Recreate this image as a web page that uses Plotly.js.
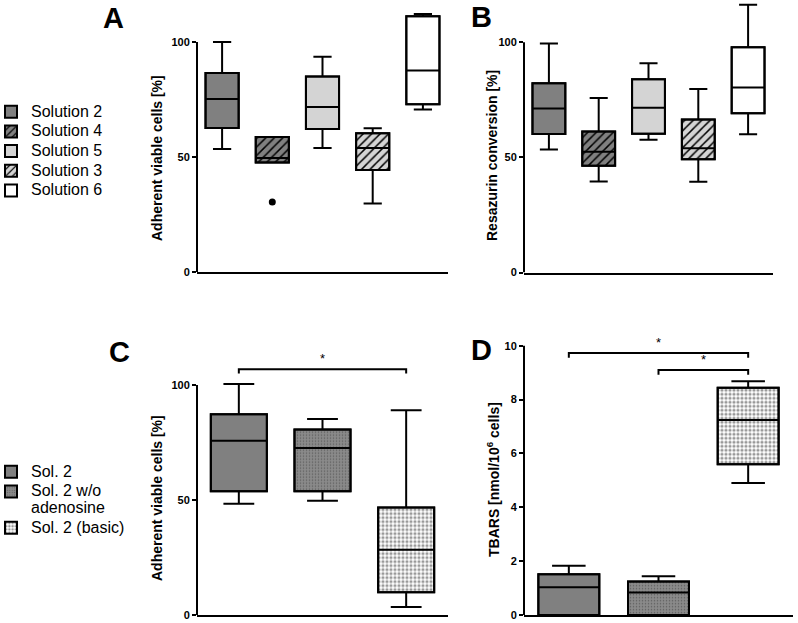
<!DOCTYPE html>
<html>
<head>
<meta charset="utf-8">
<script src="https://cdn.plot.ly/plotly-3.0.1.min.js"></script>
<style>body{margin:0;background:#fff;}</style>
</head>
<body>
<div id="chart" style="width:798px;height:623px;"></div>
<script>
// panel A - adherent viable cells, 5 solutions
var solA = ['Solution 2', 'Solution 4', 'Solution 5', 'Solution 3', 'Solution 6'];
var aLow  = [53.5, 47.6, 53.9, 29.8, 70.7];
var aQ1   = [62.6, 47.6, 62.2, 44.3, 72.9];
var aMed  = [75.2, 49.6, 71.7, 53.9, 87.6];
var aQ3   = [86.5, 58.7, 85.0, 60.3, 111.2];
var aHigh = [100.0, 58.7, 93.6, 62.5, 112.2];
var aOutX = ['Solution 4'];
var aOutY = [30.4];

// panel B - resazurin conversion
var bLow  = [53.4, 39.5, 57.7, 39.4, 60.1];
var bQ1   = [60.2, 46.4, 60.3, 49.2, 69.2];
var bMed  = [71.2, 52.5, 71.6, 54.0, 80.4];
var bQ3   = [82.2, 61.2, 83.9, 66.5, 97.9];
var bHigh = [99.5, 75.8, 90.9, 79.7, 116.3];

// panel C - adherent viable cells, Sol. 2 variants
var solC = ['Sol. 2', 'Sol. 2 w/o<br>adenosine', 'Sol. 2 (basic)'];
var cLow  = [48.4, 49.7, 3.5];
var cQ1   = [53.8, 53.8, 9.9];
var cMed  = [75.8, 72.6, 28.4];
var cQ3   = [87.3, 80.6, 46.7];
var cHigh = [100.4, 85.2, 89.0];

// panel D - TBARS
var dLow  = [0, 0, 4.90];
var dQ1   = [0, 0, 5.60];
var dMed  = [1.03, 0.84, 7.24];
var dQ3   = [1.51, 1.24, 8.44];
var dHigh = [1.83, 1.44, 8.68];

// significance brackets: [from index, to index, level]
var sigC = [[0, 2, 106.8]];
var sigD = [[0, 2, 9.73], [1, 2, 9.10]];

// fills
var fillA = ['#808080', '#808080', '#d4d4d4', '#d4d4d4', '#ffffff'];
var patA = [
  {shape: ''},
  {shape: '/', fgcolor: '#000', size: 6, solidity: 0.25},
  {shape: ''},
  {shape: '/', fgcolor: '#000', size: 6, solidity: 0.25},
  {shape: ''}
];
var fillC = ['#808080', '#8a8a8a', '#ffffff'];
var patC = [
  {shape: ''},
  {shape: '.', fgcolor: '#5e5e5e', size: 3, solidity: 0.2},
  {shape: '.', fgcolor: '#999999', size: 4, solidity: 0.5}
];

var W = 798, H = 623;
function px(x) { return x / W; }
function py(y) { return 1 - y / H; }

var traces = [];

function addPanel(sfx, cats, low, q1, med, q3, high, fills, pats, legId, showLeg, w) {
  for (var i = 0; i < cats.length; i++) {
    var pat = Object.assign({bgcolor: fills[i]}, pats[i]);
    traces.push({
      type: 'bar', x: [cats[i]], base: [q1[i]], y: [q3[i] - q1[i]], width: [w],
      xaxis: 'x' + sfx, yaxis: 'y' + sfx, legend: legId,
      name: '<span style="font-size:16px">' + cats[i] + '</span>',
      showlegend: showLeg, hoverinfo: 'skip',
      marker: {color: fills[i], pattern: pat, line: {color: '#000', width: 2}}
    });
    traces.push({
      type: 'box', x: [cats[i]], q1: [q1[i]], median: [med[i]], q3: [q3[i]],
      lowerfence: [low[i]], upperfence: [high[i]], width: w, whiskerwidth: 0.55,
      xaxis: 'x' + sfx, yaxis: 'y' + sfx, showlegend: false, boxpoints: false,
      fillcolor: 'rgba(0,0,0,0)', line: {color: '#000', width: 2}, hoverinfo: 'skip'
    });
  }
}

addPanel('', solA, aLow, aQ1, aMed, aQ3, aHigh, fillA, patA, 'legend', true, 0.66);
addPanel('2', solA, bLow, bQ1, bMed, bQ3, bHigh, fillA, patA, 'legend', false, 0.66);
addPanel('3', solC, cLow, cQ1, cMed, cQ3, cHigh, fillC, patC, 'legend2', true, 0.67);
addPanel('4', solC, dLow, dQ1, dMed, dQ3, dHigh, fillC, patC, 'legend2', false, 0.68);

traces.push({
  type: 'scatter', mode: 'markers', x: aOutX, y: aOutY, xaxis: 'x', yaxis: 'y',
  marker: {color: '#000', size: 7}, showlegend: false, hoverinfo: 'skip', cliponaxis: false
});

var annotations = [];
function addSig(sfx, cats, sig, drop) {
  sig.forEach(function (s) {
    var a = cats[s[0]], b = cats[s[1]], lv = s[2];
    traces.push({
      type: 'scatter', mode: 'lines', x: [a, a, b, b], y: [lv - drop, lv, lv, lv - drop],
      xaxis: 'x' + sfx, yaxis: 'y' + sfx, line: {color: '#000', width: 2},
      showlegend: false, hoverinfo: 'skip', cliponaxis: false
    });
    annotations.push({
      xref: 'x' + sfx, yref: 'y' + sfx, x: (s[0] + s[1]) / 2, y: lv, text: '*',
      showarrow: false, yanchor: 'bottom', yshift: 1,
      font: {size: 13, color: '#000', family: 'Liberation Sans'}
    });
  });
}
addSig('3', solC, sigC, 1.8);
addSig('4', solC, sigD, 0.18);

function xaxis(cats, x0, x1) {
  return {
    domain: [px(x0), px(x1)], type: 'category', categoryarray: cats,
    range: [-0.5, cats.length - 0.5], showline: true, linecolor: '#000', linewidth: 2,
    showticklabels: false, ticks: '', showgrid: false, zeroline: false, fixedrange: true
  };
}
function yaxis(y0, unit, top, ticks, anchor) {
  return {
    domain: [py(y0), py(y0 - top * unit)], range: [0, top], anchor: anchor,
    tickvals: ticks, ticks: 'outside', ticklen: 4, tickwidth: 2, tickcolor: '#000',
    showline: false, showgrid: false, zeroline: false, fixedrange: true,
    tickfont: {family: 'Liberation Sans', size: 11, color: '#000', weight: 'bold'}
  };
}

var yLine = [['x', 'y', 100], ['x2', 'y2', 100], ['x3', 'y3', 100], ['x4', 'y4', 10]];
var shapes = yLine.map(function (l) {
  return {type: 'line', xref: l[0] + ' domain', yref: l[1], x0: 0, x1: 0, y0: 0, y1: l[2],
          line: {color: '#000', width: 2}};
});

function label(text, x, y, size, angle) {
  annotations.push({
    xref: 'paper', yref: 'paper', x: px(x), y: py(y), text: text, showarrow: false,
    textangle: angle || 0, xanchor: 'center', yanchor: 'middle',
    font: {family: 'Liberation Sans', size: size, color: '#000', weight: 'bold'}
  });
}
label('A', 113, 18, 29);
label('B', 481, 17, 29);
label('C', 119, 352, 29);
label('D', 481, 350, 29);
label('Adherent viable cells [%]', 157, 158, 14, -90);
label('Resazurin conversion [%]', 492, 156, 14, -90);
label('Adherent viable cells [%]', 157, 498, 14, -90);
label('TBARS [nmol/10<sup>6</sup> cells]', 493, 480, 14, -90);

var legFont = {family: 'Liberation Sans', size: 12.8, color: '#000'};
var layout = {
  width: W, height: H,
  margin: {l: 0, r: 0, t: 0, b: 0},
  paper_bgcolor: '#fff', plot_bgcolor: 'rgba(0,0,0,0)',
  showlegend: true,
  barmode: 'overlay', boxmode: 'overlay',
  xaxis: xaxis(solA, 197, 448),
  yaxis: yaxis(272, 2.30, 117, [0, 50, 100], 'x'),
  xaxis2: xaxis(solA, 524, 773),
  yaxis2: yaxis(272.5, 2.302, 118, [0, 50, 100], 'x2'),
  xaxis3: xaxis(solC, 197, 448),
  yaxis3: yaxis(615, 2.30, 118, [0, 50, 100], 'x3'),
  xaxis4: xaxis(solC, 524, 793),
  yaxis4: yaxis(615, 26.93, 10.5, [0, 2, 4, 6, 8, 10], 'x4'),
  legend: {x: 0, y: py(97), xanchor: 'left', yanchor: 'top', font: legFont, indentation: -9,
           bgcolor: 'rgba(0,0,0,0)', traceorder: 'normal', valign: 'top'},
  legend2: {x: 0, y: py(457), xanchor: 'left', yanchor: 'top', font: legFont, indentation: -9,
            bgcolor: 'rgba(0,0,0,0)', traceorder: 'normal', valign: 'top'},
  shapes: shapes,
  annotations: annotations
};
layout.xaxis2.anchor = 'y2'; layout.xaxis3.anchor = 'y3'; layout.xaxis4.anchor = 'y4';

Plotly.newPlot('chart', traces, layout, {displayModeBar: false, staticPlot: true});
</script>
</body>
</html>
